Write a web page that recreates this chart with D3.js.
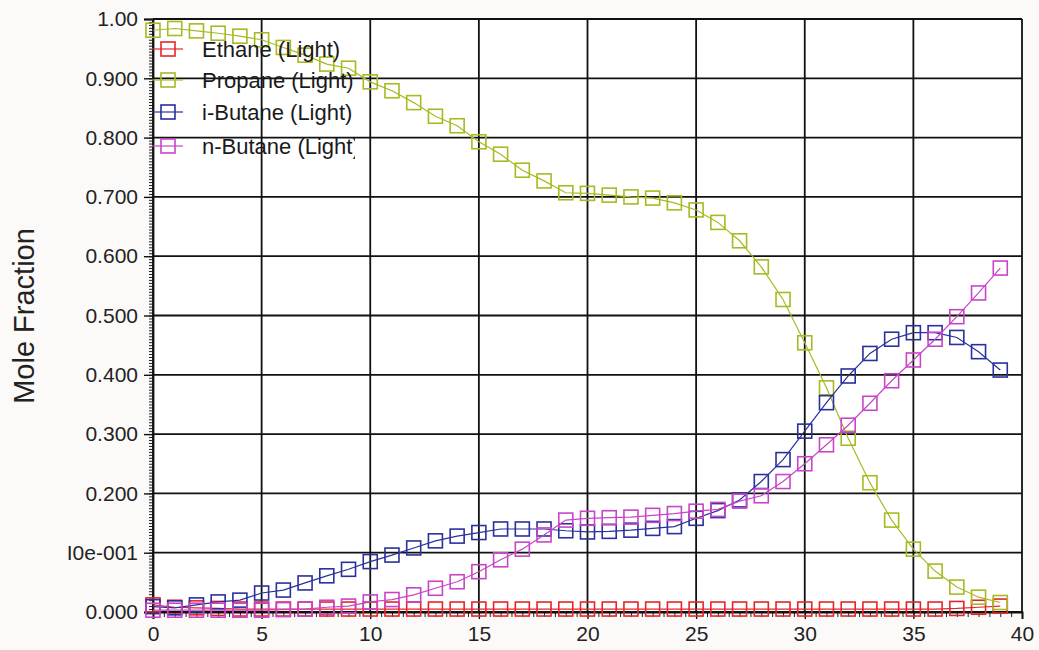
<!DOCTYPE html>
<html>
<head>
<meta charset="utf-8">
<script src="https://cdn.jsdelivr.net/npm/d3@7"></script>
<style>
  body { margin: 0; background: #fcfaf8; }
  svg { display: block; }
  text { font-family: "Liberation Sans", Arial, sans-serif; }
</style>
</head>
<body>
<div id="chart"></div>
<script>
// stage number 0..39
const stages = d3.range(0, 40);

const ethane = [0.012, 0.008, 0.007, 0.006, 0.005, 0.005, 0.005, 0.005, 0.005, 0.005,
  0.005, 0.005, 0.005, 0.005, 0.005, 0.005, 0.005, 0.005, 0.005, 0.005,
  0.005, 0.005, 0.005, 0.005, 0.005, 0.005, 0.005, 0.005, 0.005, 0.005,
  0.005, 0.005, 0.005, 0.005, 0.005, 0.005, 0.005, 0.006, 0.008, 0.010];

const propane = [0.981, 0.984, 0.980, 0.976, 0.971, 0.965, 0.952, 0.939, 0.924, 0.917,
  0.894, 0.879, 0.859, 0.836, 0.820, 0.793, 0.772, 0.745, 0.727, 0.707,
  0.706, 0.703, 0.700, 0.698, 0.690, 0.678, 0.657, 0.626, 0.582, 0.527,
  0.454, 0.378, 0.293, 0.218, 0.155, 0.106, 0.069, 0.042, 0.025, 0.016];

const iButane = [0.009, 0.007, 0.012, 0.017, 0.020, 0.032, 0.037, 0.049, 0.061, 0.072,
  0.085, 0.096, 0.108, 0.120, 0.128, 0.134, 0.140, 0.140, 0.140, 0.137,
  0.135, 0.136, 0.138, 0.141, 0.144, 0.158, 0.171, 0.189, 0.220, 0.257,
  0.305, 0.353, 0.398, 0.436, 0.460, 0.471, 0.471, 0.463, 0.439, 0.408];

const nButane = [0.003, 0.003, 0.003, 0.003, 0.003, 0.003, 0.004, 0.005, 0.008, 0.010,
  0.017, 0.021, 0.029, 0.040, 0.051, 0.068, 0.088, 0.106, 0.130, 0.155,
  0.158, 0.159, 0.160, 0.163, 0.166, 0.170, 0.173, 0.187, 0.196, 0.220,
  0.250, 0.282, 0.315, 0.352, 0.390, 0.425, 0.460, 0.498, 0.538, 0.580];

const seriesNames = ["Ethane (Light)", "Propane (Light)", "i-Butane (Light)", "n-Butane (Light)"];
const seriesValues = [ethane, propane, iButane, nButane];
const seriesColors = ["#e4262a", "#a9b922", "#2a309c", "#c945c8"];

const yTickValues = [0, 0.1, 0.2, 0.3, 0.4, 0.5, 0.6, 0.7, 0.8, 0.9, 1.0];
const yTickLabels = ["0.000", "I0e-001", "0.200", "0.300", "0.400", "0.500", "0.600", "0.700", "0.800", "0.900", "1.00"];
const xTickValues = [0, 5, 10, 15, 20, 25, 30, 35, 40];

const margin = { top: 19, right: 17, bottom: 38, left: 153 };
const width = 1039 - margin.left - margin.right;
const height = 650 - margin.top - margin.bottom;

const root = d3.select("#chart").append("svg")
  .attr("width", 1039)
  .attr("height", 650);

const svg = root.append("g")
  .attr("transform", `translate(${margin.left},${margin.top})`);

const x = d3.scaleLinear().domain([0, 40]).range([0, width]);
const y = d3.scaleLinear().domain([0, 1]).range([height, 0]);

svg.append("rect")
  .attr("width", width).attr("height", height)
  .attr("fill", "#ffffff");

// grid
svg.append("g").selectAll("line")
  .data(yTickValues)
  .enter().append("line")
  .attr("x1", 0).attr("x2", width)
  .attr("y1", d => y(d)).attr("y2", d => y(d))
  .attr("stroke", "#111").attr("stroke-width", 1.8);

svg.append("g").selectAll("line")
  .data(xTickValues)
  .enter().append("line")
  .attr("x1", d => x(d)).attr("x2", d => x(d))
  .attr("y1", 0).attr("y2", height)
  .attr("stroke", "#111").attr("stroke-width", 1.8);

// minor ticks
svg.append("g")
  .call(d3.axisLeft(y).tickValues(d3.range(0, 1.0001, 0.005)).tickSize(4).tickFormat(""))
  .call(g => g.select(".domain").remove())
  .selectAll("line").attr("stroke", "#222");

svg.append("g")
  .attr("transform", `translate(0,${height})`)
  .call(d3.axisBottom(x).tickValues(d3.range(0, 40.001, 0.5)).tickSize(5).tickFormat(""))
  .call(g => g.select(".domain").remove())
  .selectAll("line").attr("stroke", "#222");

// major ticks + labels
const yAxis = svg.append("g")
  .call(d3.axisLeft(y).tickValues(yTickValues).tickSize(9).tickPadding(6)
    .tickFormat((d, i) => yTickLabels[i]));
yAxis.select(".domain").attr("stroke", "#111").attr("stroke-width", 1.8);
yAxis.selectAll("line").attr("stroke", "#111").attr("stroke-width", 1.4);
yAxis.selectAll("text").style("font-size", "21px").attr("fill", "#222");

const xAxis = svg.append("g")
  .attr("transform", `translate(0,${height})`)
  .call(d3.axisBottom(x).tickValues(xTickValues).tickSize(7).tickPadding(7));
xAxis.select(".domain").attr("stroke", "#111").attr("stroke-width", 1.8);
xAxis.selectAll("line").attr("stroke", "#111").attr("stroke-width", 1.4);
xAxis.selectAll("text").style("font-size", "21px").attr("fill", "#222");

// y axis title
root.append("text")
  .attr("transform", `translate(34,316) rotate(-90)`)
  .attr("text-anchor", "middle")
  .style("font-size", "29px")
  .attr("fill", "#222")
  .text("Mole Fraction");

// series
const line = d3.line()
  .x((d, i) => x(stages[i]))
  .y(d => y(d));

const ms = 14;
seriesValues.forEach((vals, k) => {
  const g = svg.append("g");
  g.append("path")
    .datum(vals)
    .attr("d", line)
    .attr("fill", "none")
    .attr("stroke", seriesColors[k])
    .attr("stroke-width", 1.2);
  g.selectAll("rect")
    .data(vals)
    .enter().append("rect")
    .attr("x", (d, i) => x(stages[i]) - ms / 2)
    .attr("y", d => y(d) - ms / 2)
    .attr("width", ms).attr("height", ms)
    .attr("fill", "none")
    .attr("stroke", seriesColors[k])
    .attr("stroke-width", 1.6);
});

// legend (clipped on the right like the original)
root.append("clipPath").attr("id", "legclip")
  .append("rect").attr("x", 140).attr("y", 20).attr("width", 215).attr("height", 150);

const legend = root.append("g").attr("clip-path", "url(#legclip)");
const legY = [49, 80, 112, 146];
seriesNames.forEach((name, k) => {
  const row = legend.append("g").attr("transform", `translate(0,${legY[k]})`);
  row.append("line")
    .attr("x1", 152).attr("x2", 183)
    .attr("stroke", seriesColors[k]).attr("stroke-width", 1.2);
  row.append("rect")
    .attr("x", 168 - ms / 2).attr("y", -ms / 2)
    .attr("width", ms).attr("height", ms)
    .attr("fill", "none")
    .attr("stroke", seriesColors[k]).attr("stroke-width", 1.6);
  row.append("text")
    .attr("x", 202).attr("y", 8)
    .style("font-size", "22px")
    .attr("fill", "#1a1a1a")
    .text(name);
});
</script>
</body>
</html>
